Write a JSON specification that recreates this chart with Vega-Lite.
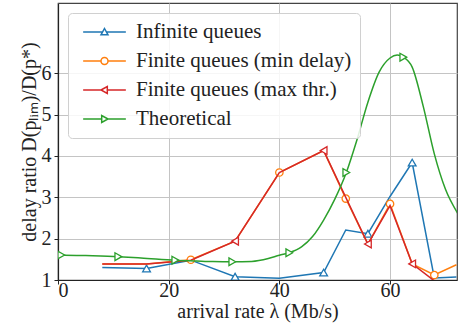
{
  "$schema": "https://vega.github.io/schema/vega-lite/v6.json",
  "autosize": "none",
  "width": 399,
  "height": 277,
  "padding": {"left": 58, "top": 3, "right": 1, "bottom": 53},
  "config": {
    "view": {"stroke": "#444", "strokeWidth": 1.2},
    "font": "Liberation Serif",
    "axis": {
      "labelFont": "Liberation Serif", "titleFont": "Liberation Serif",
      "labelFontSize": 20, "titleFontSize": 20, "labelColor": "#222", "titleColor": "#222",
      "titleFontWeight": "normal", "gridColor": "#c4c4c4", "gridWidth": 1,
      "tickColor": "#222", "tickSize": 4, "domainColor": "#222", "domainWidth": 1.2
    },
    "legend": {
      "labelFont": "Liberation Serif", "labelFontSize": 21, "labelColor": "#222"
    }
  },
  "data": {"values": [
    {"s": "Infinite queues", "x": 8, "y": 1.30, "mk": false},
    {"s": "Infinite queues", "x": 16, "y": 1.28, "mk": true},
    {"s": "Infinite queues", "x": 24, "y": 1.48, "mk": false},
    {"s": "Infinite queues", "x": 32, "y": 1.08, "mk": true},
    {"s": "Infinite queues", "x": 40, "y": 1.04, "mk": false},
    {"s": "Infinite queues", "x": 48, "y": 1.18, "mk": true},
    {"s": "Infinite queues", "x": 52, "y": 2.21, "mk": false},
    {"s": "Infinite queues", "x": 56, "y": 2.12, "mk": true},
    {"s": "Infinite queues", "x": 60, "y": 3.02, "mk": false},
    {"s": "Infinite queues", "x": 64, "y": 3.84, "mk": true},
    {"s": "Infinite queues", "x": 68, "y": 1.05, "mk": false},
    {"s": "Infinite queues", "x": 72, "y": 1.07, "mk": false},
    {"s": "Finite queues (min delay)", "x": 8, "y": 1.39, "mk": false},
    {"s": "Finite queues (min delay)", "x": 16, "y": 1.39, "mk": false},
    {"s": "Finite queues (min delay)", "x": 24, "y": 1.49, "mk": true},
    {"s": "Finite queues (min delay)", "x": 32, "y": 1.94, "mk": false},
    {"s": "Finite queues (min delay)", "x": 40, "y": 3.60, "mk": true},
    {"s": "Finite queues (min delay)", "x": 48, "y": 4.13, "mk": false},
    {"s": "Finite queues (min delay)", "x": 52, "y": 2.97, "mk": true},
    {"s": "Finite queues (min delay)", "x": 56, "y": 1.87, "mk": false},
    {"s": "Finite queues (min delay)", "x": 60, "y": 2.84, "mk": true},
    {"s": "Finite queues (min delay)", "x": 64, "y": 1.39, "mk": false},
    {"s": "Finite queues (min delay)", "x": 68, "y": 1.12, "mk": true},
    {"s": "Finite queues (min delay)", "x": 72, "y": 1.37, "mk": false},
    {"s": "Finite queues (max thr.)", "x": 8, "y": 1.39, "mk": false},
    {"s": "Finite queues (max thr.)", "x": 16, "y": 1.39, "mk": false},
    {"s": "Finite queues (max thr.)", "x": 24, "y": 1.48, "mk": false},
    {"s": "Finite queues (max thr.)", "x": 32, "y": 1.94, "mk": true},
    {"s": "Finite queues (max thr.)", "x": 40, "y": 3.60, "mk": false},
    {"s": "Finite queues (max thr.)", "x": 48, "y": 4.13, "mk": true},
    {"s": "Finite queues (max thr.)", "x": 52, "y": 3.00, "mk": false},
    {"s": "Finite queues (max thr.)", "x": 56, "y": 1.87, "mk": true},
    {"s": "Finite queues (max thr.)", "x": 60, "y": 2.80, "mk": false},
    {"s": "Finite queues (max thr.)", "x": 64, "y": 1.39, "mk": true},
    {"s": "Finite queues (max thr.)", "x": 68, "y": 0.98, "mk": false},
    {"s": "Finite queues (max thr.)", "x": 72, "y": 0.98, "mk": false},
    {"s": "Theoretical", "x": 0, "y": 1.61, "mk": false},
    {"s": "Theoretical", "x": 0.6, "y": 1.605, "mk": true},
    {"s": "Theoretical", "x": 5, "y": 1.59, "mk": false},
    {"s": "Theoretical", "x": 10.9, "y": 1.565, "mk": true},
    {"s": "Theoretical", "x": 15, "y": 1.535, "mk": false},
    {"s": "Theoretical", "x": 21.2, "y": 1.48, "mk": true},
    {"s": "Theoretical", "x": 25, "y": 1.46, "mk": false},
    {"s": "Theoretical", "x": 28, "y": 1.445, "mk": false},
    {"s": "Theoretical", "x": 31.5, "y": 1.44, "mk": true},
    {"s": "Theoretical", "x": 35, "y": 1.45, "mk": false},
    {"s": "Theoretical", "x": 38, "y": 1.52, "mk": false},
    {"s": "Theoretical", "x": 40, "y": 1.6, "mk": false},
    {"s": "Theoretical", "x": 41.8, "y": 1.66, "mk": true},
    {"s": "Theoretical", "x": 44, "y": 1.8, "mk": false},
    {"s": "Theoretical", "x": 46, "y": 2.05, "mk": false},
    {"s": "Theoretical", "x": 48, "y": 2.45, "mk": false},
    {"s": "Theoretical", "x": 50, "y": 2.95, "mk": false},
    {"s": "Theoretical", "x": 52.1, "y": 3.6, "mk": true},
    {"s": "Theoretical", "x": 54, "y": 4.38, "mk": false},
    {"s": "Theoretical", "x": 56, "y": 5.3, "mk": false},
    {"s": "Theoretical", "x": 58, "y": 6.02, "mk": false},
    {"s": "Theoretical", "x": 60, "y": 6.37, "mk": false},
    {"s": "Theoretical", "x": 61.3, "y": 6.44, "mk": false},
    {"s": "Theoretical", "x": 62.4, "y": 6.39, "mk": true},
    {"s": "Theoretical", "x": 64, "y": 6.15, "mk": false},
    {"s": "Theoretical", "x": 66, "y": 5.2, "mk": false},
    {"s": "Theoretical", "x": 68, "y": 4.05, "mk": false},
    {"s": "Theoretical", "x": 70, "y": 3.2, "mk": false},
    {"s": "Theoretical", "x": 72.2, "y": 2.62, "mk": false}
  ]},
  "encoding": {
    "x": {"field": "x", "type": "quantitative",
      "scale": {"domain": [0, 72.1], "nice": false, "zero": false},
      "axis": {"values": [0, 20, 40, 60], "title": "arrival rate λ (Mb/s)", "titlePadding": 1, "labelPadding": -4}},
    "y": {"field": "y", "type": "quantitative",
      "scale": {"domain": [1, 7.7], "nice": false, "zero": false},
      "axis": {"values": [1, 2, 3, 4, 5, 6], "title": "delay ratio D(pₗᵢₘ)/D(p*)", "titlePadding": 2, "labelPadding": 3}},
    "color": {"field": "s", "type": "nominal",
      "scale": {"domain": ["Infinite queues", "Finite queues (min delay)", "Finite queues (max thr.)", "Theoretical"],
        "range": ["#1f77b4", "#ff7f0e", "#d62728", "#2ca02c"]},
      "legend": {
        "title": null, "orient": "top-left", "offset": 10, "padding": 8,
        "symbolSize": 49, "symbolStrokeWidth": 1.5, "symbolOffset": 18, "labelOffset": 21,
        "clipHeight": 22, "rowPadding": 7, "cornerRadius": 4, "strokeColor": "#d0d0d0",
        "fillColor": "rgba(255,255,255,0.85)", "labelLimit": 400,
        "encode": {"symbols": {"update": {
          "fill": {"value": "white"},
          "shape": {"signal": "datum.value === 'Infinite queues' ? 'M-6.1,0H-0.56M0.56,0H6.1M0,-1L1,0.8L-1,0.8Z' : datum.value === 'Finite queues (min delay)' ? 'M-6.1,0H-1M1,0H6.1M1,0A1,1,0,1,1,-1,0A1,1,0,1,1,1,0Z' : datum.value === 'Finite queues (max thr.)' ? 'M-6.1,0H-1M0.8,0H6.1M-1,0L0.8,-1L0.8,1Z' : 'M-6.1,0H-0.8M1,0H6.1M1,0L-0.8,-1L-0.8,1Z'"}
        }}}
      }
    }
  },
  "layer": [
    {"transform": [{"filter": "datum.s === 'Infinite queues'"}],
     "mark": {"type": "line", "strokeWidth": 1.5, "clip": true}, "encoding": {}},
    {"transform": [{"filter": "datum.s === 'Infinite queues' && datum.mk"}],
     "mark": {"type": "point", "shape": "triangle-up", "filled": false, "fill": "white", "fillOpacity": 1, "opacity": 1, "strokeWidth": 1.3, "size": 60, "clip": true}, "encoding": {}},
    {"transform": [{"filter": "datum.s === 'Finite queues (min delay)'"}],
     "mark": {"type": "line", "strokeWidth": 1.5, "clip": true}, "encoding": {}},
    {"transform": [{"filter": "datum.s === 'Finite queues (min delay)' && datum.mk"}],
     "mark": {"type": "point", "shape": "circle", "filled": false, "fill": "white", "fillOpacity": 1, "opacity": 1, "strokeWidth": 1.3, "size": 55, "clip": true}, "encoding": {}},
    {"transform": [{"filter": "datum.s === 'Finite queues (max thr.)'"}],
     "mark": {"type": "line", "strokeWidth": 1.5, "clip": true}, "encoding": {}},
    {"transform": [{"filter": "datum.s === 'Finite queues (max thr.)' && datum.mk"}],
     "mark": {"type": "point", "shape": "triangle-left", "filled": false, "fill": "white", "fillOpacity": 1, "opacity": 1, "strokeWidth": 1.3, "size": 60, "clip": true}, "encoding": {}},
    {"transform": [{"filter": "datum.s === 'Theoretical'"}],
     "mark": {"type": "line", "strokeWidth": 1.5, "clip": true, "interpolate": "monotone"}, "encoding": {}},
    {"transform": [{"filter": "datum.s === 'Theoretical' && datum.mk"}],
     "mark": {"type": "point", "shape": "triangle-right", "filled": false, "fill": "white", "fillOpacity": 1, "opacity": 1, "strokeWidth": 1.3, "size": 60, "clip": true}, "encoding": {}}
  ]
}
